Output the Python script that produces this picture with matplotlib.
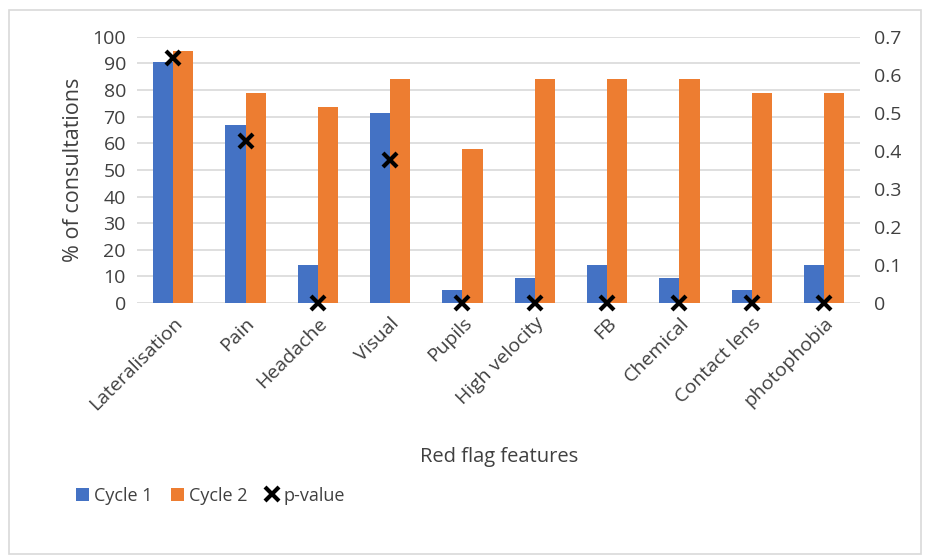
import matplotlib.pyplot as plt
import numpy as np
from matplotlib.patches import Rectangle

plt.rcParams["font.family"] = ["Open Sans", "DejaVu Sans"]

features = ["Lateralisation", "Pain", "Headache", "Visual", "Pupils",
            "High velocity", "FB", "Chemical", "Contact lens", "photophobia"]
cycle1 = [90.5, 66.7, 14.3, 71.4, 4.8, 9.5, 14.3, 9.5, 4.8, 14.3]
cycle2 = [94.7, 78.9, 73.7, 84.2, 57.9, 84.2, 84.2, 84.2, 78.9, 78.9]
p_value = [0.645, 0.425, 0.0, 0.375, 0.0, 0.0, 0.0, 0.0, 0.0, 0.0]

blue = "#4472C4"
orange = "#ED7D31"
text_col = "#404040"

fig = plt.figure(figsize=(9.26, 5.57), dpi=100)
ax = fig.add_axes([0.148, 0.456, 0.781, 0.478])

x = np.arange(len(features))
w = 0.28
b1 = ax.bar(x - w / 2, cycle1, w, color=blue, label="Cycle 1", zorder=2)
b2 = ax.bar(x + w / 2, cycle2, w, color=orange, label="Cycle 2", zorder=2)

ax.set_ylim(0, 100)
ax.set_xlim(-0.5, len(features) - 0.5)
ax.set_yticks(range(0, 101, 10))
ax.yaxis.grid(True, color="#d9d9d9", linewidth=1.2, zorder=0)
ax.set_axisbelow(True)
for s in ax.spines.values():
    s.set_visible(False)
ax.tick_params(axis="y", length=0, labelsize=14, colors=text_col, pad=8)
ax.tick_params(axis="x", length=0, labelsize=14, colors=text_col, pad=8)
ax.set_xticks(x)
ax.set_xticklabels(features, rotation=45, ha="right", rotation_mode="anchor")
ax.set_ylabel("% of consultations", fontsize=15.5, color=text_col, labelpad=6)
ax.set_xlabel("Red flag features", fontsize=14.5, color=text_col, labelpad=24)

ax2 = ax.twinx()
ax2.set_ylim(0, 0.7)
ax2.set_yticks(np.arange(0, 0.71, 0.1))
ax2.set_yticklabels(["0"] + [f"{v:.1f}" for v in np.arange(0.1, 0.71, 0.1)])
for s in ax2.spines.values():
    s.set_visible(False)
ax2.tick_params(axis="y", length=0, labelsize=14, colors=text_col, pad=10)
pts = ax2.plot(x, p_value, linestyle="none", marker="x", markersize=10,
               markeredgewidth=3, color="black", label="p-value",
               clip_on=False, zorder=3)

handles = [b1, b2, pts[0]]
fig.legend(handles, ["Cycle 1", "Cycle 2", "p-value"], loc="center left",
           bbox_to_anchor=(0.065, 0.11), ncol=3, frameon=False, fontsize=13,
           handlelength=0.7, handletextpad=0.3, columnspacing=1.0,
           labelcolor=text_col)

fig.patches.append(Rectangle((9 / 926, 0.005), 0.985, 0.977, transform=fig.transFigure,
                             fill=False, edgecolor="#d9d9d9", linewidth=1.2))

fig.savefig("out.png", dpi=100)
